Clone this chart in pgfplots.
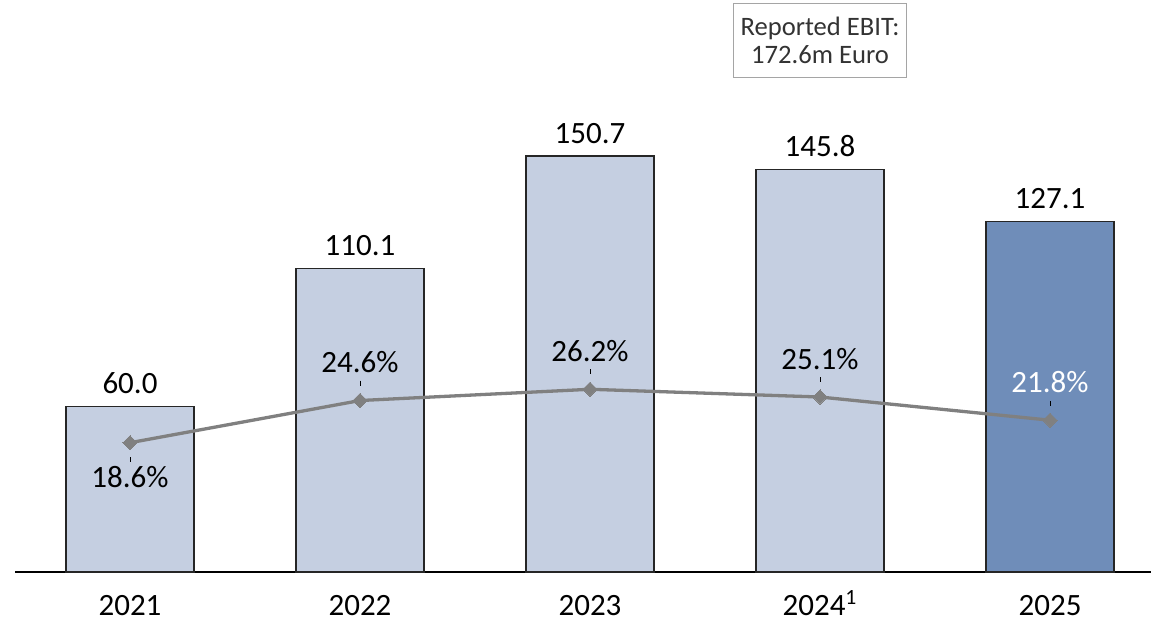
\documentclass[border=0pt]{standalone}
\usepackage{pgfplots}
\pgfplotsset{compat=1.18}
\usepackage{fontspec}
\setmainfont{Carlito}

\definecolor{barlight}{RGB}{197,207,225}
\definecolor{bardark}{RGB}{111,141,185}
\definecolor{linegray}{RGB}{128,128,128}
\definecolor{boxgray}{RGB}{165,165,165}

\newcommand{\lbl}{\fontsize{15.5}{18}\selectfont}

\begin{document}
\begin{tikzpicture}
% shared frame: 1px of the reference = 0.5pt
\pgfplotsset{
    frame/.style={
        width=568pt, height=286pt,
        scale only axis,
        xmin=-0.5, xmax=4.439,
        clip=false,
        /pgf/number format/assume math mode=true,
    }
}
\begin{axis}[
        frame,
        ymin=0, ymax=207.25,
        axis x line*=bottom,
        axis y line=none,
        x axis line style={line width=1pt,-},
        xtick={0,1,2,3,4},
        xticklabels={2021,2022,2023,2024\textsuperscript{1},2025},
        major tick length=0pt,
        xticklabel style={font=\lbl, anchor=base, yshift=-21.5pt},
        ybar, bar width=64pt, bar shift=0pt,
        nodes near coords={\pgfmathprintnumber[fixed,fixed zerofill,precision=1]{\pgfplotspointmeta}},
        every node near coord/.append style={font=\lbl, anchor=base, yshift=6.5pt, inner sep=0pt},
    ]
    \addplot[fill=barlight, draw=black!85, line width=0.6pt] coordinates {
            (0, 60.0) (1, 110.1) (2, 150.7) (3, 145.8)
        };
    \addplot[fill=bardark, draw=black!85, line width=0.6pt] coordinates {
            (4, 127.1)
        };
    \coordinate (o) at (rel axis cs:0,0);
    \node[draw=boxgray, line width=0.5pt, minimum width=86.5pt, minimum height=37pt,
        align=center, font=\fontsize{13.3}{14}\selectfont, text=black!80]
        at (axis cs:3,192.6) {Reported EBIT:\\172.6m Euro};
\end{axis}

\begin{axis}[
        frame,
        ymin=0.21, ymax=81.57,
        hide axis,
    ]
    % EBIT margin in %
    \addplot[color=linegray, line width=1.65pt, mark=square*,
        mark size=2.5pt, mark options={rotate=45, fill=linegray, line width=0pt}]
        coordinates {
            (0, 18.6) (1, 24.6) (2, 26.2) (3, 25.1) (4, 21.8)
        };
    % labels above the point (mark yshift also moves the label)
    \addplot[only marks, mark=|, mark size=1.25pt,
        mark options={black, line width=0.5pt, yshift=8.7pt},
        nodes near coords={\pgfmathprintnumber[fixed,fixed zerofill,precision=1]{\pgfplotspointmeta}\%},
        every node near coord/.append style={font=\lbl, anchor=base, yshift=5.1pt, inner sep=0pt, black}]
        coordinates {
            (1, 24.6) (2, 26.2) (3, 25.1)
        };
    \addplot[only marks, mark=|, mark size=1.25pt,
        mark options={black, line width=0.5pt, yshift=8.3pt},
        nodes near coords={\pgfmathprintnumber[fixed,fixed zerofill,precision=1]{\pgfplotspointmeta}\%},
        every node near coord/.append style={font=\lbl, anchor=base, yshift=5.5pt, inner sep=0pt, white}]
        coordinates {
            (4, 21.8)
        };
    % label below the point
    \addplot[only marks, mark=|, mark size=1.25pt,
        mark options={black, line width=0.5pt, yshift=-8.4pt},
        nodes near coords={\pgfmathprintnumber[fixed,fixed zerofill,precision=1]{\pgfplotspointmeta}\%},
        every node near coord/.append style={font=\lbl, anchor=base, yshift=-14.2pt, inner sep=0pt, black}]
        coordinates {
            (0, 18.6)
        };
\end{axis}
\pgfresetboundingbox
\path (o) ++(-7.5pt,-24.5pt) rectangle ++(575.5pt,310.5pt);
\end{tikzpicture}
\end{document}
